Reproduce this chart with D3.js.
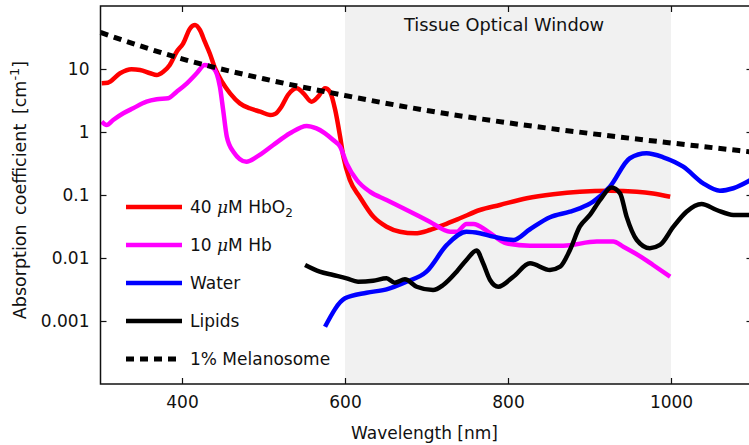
<!DOCTYPE html>
<html>
<head>
<meta charset="utf-8">
<script src="https://cdn.jsdelivr.net/npm/d3@7"></script>
<style>
  body { margin: 0; background: #fff; }
  svg { display: block; }
  text { font-family: "DejaVu Sans", sans-serif; fill: #111; }
</style>
</head>
<body>
<svg id="chart" width="749" height="445"></svg>
<script>
// wavelength [nm], absorption coefficient [cm^-1]
var hbo2 = [[301.5,5.93],[309,6.06],[324,8.55],[338,9.89],[348.5,9.64],[361,8.55],[369,8.03],[377,9.06],
  [385,11.6],[393.5,18.8],[401.5,25.6],[410,44.3],[416,49.9],[422,41.6],[428,27.1],[434,17.8],[440.5,10.3],
  [449,6.29],[459,4.11],[471,2.85],[483,2.38],[496,2.1],[508,1.86],[514,1.93],[522,2.52],[530,3.87],
  [541,4.94],[549,4.11],[559,3.03],[567,3.63],[575.5,4.94],[581.5,4.36],[588,2.23],[594,0.842],[598,0.406],
  [606,0.173],[618,0.094],[635,0.045],[651,0.0314],[667.5,0.0261],[686,0.0246],[704,0.0278],[720.5,0.0334],
  [741,0.0427],[765.5,0.0578],[790,0.0694],[823,0.0887],[855.5,0.103],[888,0.113],[925,0.117],[958,0.113],
  [978,0.106],[999,0.094]];

var hb = [[301.5,1.46],[307.5,1.29],[315.5,1.55],[328,1.98],[340,2.38],[356.5,3.03],[369,3.3],[383,3.43],
  [393.5,4.36],[406,5.93],[418,8.55],[428,11.6],[438.5,10.3],[446.5,5.24],[450.5,2.23],[455,0.842],
  [463,0.487],[479,0.338],[492,0.406],[512,0.622],[532.5,0.955],[553,1.25],[565,1.14],[585.5,0.746],
  [594,0.585],[602,0.318],[614.5,0.173],[630.5,0.113],[651,0.0833],[680,0.0543],[704,0.0377],[729,0.0261],
  [737,0.0261],[749,0.0347],[757.5,0.0347],[776,0.026],[798,0.0171],[827,0.0157],[868,0.0157],[909,0.0182],
  [929,0.0182],[941.5,0.0151],[966,0.00989],[978,0.00774],[999,0.00505]];

var water = [[575.5,0.000812],[600,0.00229],[626.5,0.00281],[651,0.00318],[675.5,0.00421],[700,0.00607],
  [725,0.0161],[749,0.0261],[765.5,0.0247],[782,0.0218],[806.5,0.0193],[827,0.0286],[851.5,0.0443],
  [876,0.0543],[888,0.0615],[904.5,0.0783],[925,0.135],[949.5,0.383],[970,0.459],[990.5,0.397],
  [1015,0.281],[1039.5,0.153],[1060,0.117],[1076.5,0.128],[1100,0.18]];

var lipids = [[551,0.00774],[569,0.00607],[585.5,0.00537],[602,0.00476],[616,0.00421],[634.5,0.00436],
  [651,0.00476],[661,0.00406],[673.5,0.00459],[688,0.0035],[708,0.0031],[720.5,0.00373],[737,0.00607],
  [749,0.0093],[761.5,0.0131],[769.5,0.00824],[778,0.00448],[788,0.0035],[806.5,0.00505],[827,0.00824],
  [851.5,0.00645],[864,0.00728],[876,0.0134],[888,0.0314],[900.5,0.0482],[913,0.0833],[927,0.132],
  [937.5,0.106],[945.5,0.0453],[958,0.0193],[974,0.0143],[986.5,0.0161],[1003,0.0314],[1019,0.0543],
  [1037.5,0.072],[1056,0.0578],[1076.5,0.0482],[1100,0.0482]];

var melanosome = [[300,38],[400,14.5],[500,7],[600,3.8],[700,2.2],[800,1.4],[900,0.95],[1000,0.67],[1100,0.48]];

var xTicks = [400, 600, 800, 1000];
var yTicks = [0.001, 0.01, 0.1, 1, 10];
var yTickLabels = ["0.001", "0.01", "0.1", "1", "10"];
var windowRange = [600, 1000];

var svg = d3.select("#chart");

var x = d3.scaleLinear().domain([300, 1100]).range([100.5, 752.5]);
var y = d3.scaleLog().domain([1e-4, 100]).range([384, 6]);

// optical window shading
svg.append("rect")
    .attr("x", x(windowRange[0]))
    .attr("y", y(100))
    .attr("width", x(windowRange[1]) - x(windowRange[0]))
    .attr("height", y(1e-4) - y(100))
    .style("fill", "#f1f1f1");

svg.append("text")
    .attr("x", (x(windowRange[0]) + x(windowRange[1])) / 2 - 4)
    .attr("y", 31)
    .attr("text-anchor", "middle")
    .style("font-size", "17.8px")
    .text("Tissue Optical Window");

var line = d3.line()
    .x(d => x(d[0]))
    .y(d => y(d[1]))
    .curve(d3.curveMonotoneX);

var series = [
  {data: hbo2, color: "#ff0000", dash: null},
  {data: hb, color: "#ff00ff", dash: null},
  {data: water, color: "#0000ff", dash: null},
  {data: lipids, color: "#000000", dash: null},
  {data: melanosome, color: "#000000", dash: "8,6"}
];

var plot = svg.append("g");
plot.selectAll(".curve")
    .data(series)
    .enter()
    .append("path")
    .attr("class", "curve")
    .attr("d", d => line(d.data))
    .style("fill", "none")
    .style("stroke", d => d.color)
    .style("stroke-width", d => d.dash ? 5 : 4.5)
    .style("stroke-dasharray", d => d.dash)
    .style("stroke-linejoin", "round");

// frame
svg.append("rect")
    .attr("x", x(300))
    .attr("y", y(100))
    .attr("width", x(1100) - x(300))
    .attr("height", y(1e-4) - y(100))
    .style("fill", "none")
    .style("stroke", "#111")
    .style("stroke-width", 1.5);

// axes, ticks pointing inward
svg.append("g")
    .attr("transform", "translate(0," + y(1e-4) + ")")
    .call(d3.axisBottom(x).tickValues(xTicks).tickSizeInner(-6).tickSizeOuter(0).tickPadding(12)
      .tickFormat(d3.format("d")))
    .call(g => g.select(".domain").remove());

svg.append("g")
    .attr("transform", "translate(0," + y(100) + ")")
    .call(d3.axisTop(x).tickValues(xTicks).tickSizeInner(-6).tickSizeOuter(0).tickFormat(""))
    .call(g => g.select(".domain").remove());

svg.append("g")
    .attr("transform", "translate(" + x(300) + ",0)")
    .call(d3.axisLeft(y).tickValues(yTicks).tickSizeInner(-6).tickSizeOuter(0).tickPadding(11)
      .tickFormat((d, i) => yTickLabels[i]))
    .call(g => g.select(".domain").remove());

svg.append("g")
    .attr("transform", "translate(" + x(1100) + ",0)")
    .call(d3.axisRight(y).tickValues(yTicks).tickSizeInner(-6).tickSizeOuter(0).tickFormat(""))
    .call(g => g.select(".domain").remove());

svg.selectAll(".tick line").style("stroke", "#111").style("stroke-width", 1.2);
svg.selectAll(".tick text").style("font-family", "'DejaVu Sans', sans-serif")
    .style("font-size", "17px").style("fill", "#111");

// axis titles
svg.append("text")
    .attr("x", (x(300) + x(1100)) / 2 - 2)
    .attr("y", 439)
    .attr("text-anchor", "middle")
    .style("font-size", "17px")
    .text("Wavelength [nm]");

var yt = svg.append("text")
    .attr("transform", "translate(26,190) rotate(-90)")
    .attr("text-anchor", "middle")
    .style("font-size", "17.5px")
    .style("word-spacing", "4px");
yt.append("tspan").text("Absorption coefficient [cm");
yt.append("tspan").attr("dy", -7).style("font-size", "13px").text("-1");
yt.append("tspan").attr("dy", 7).text("]");

// legend
var legendRows = [
  {color: "#ff0000", dash: null, parts: [["40 ", null], ["\u03bc", "italic"], ["M HbO", null], ["2", "sub"]]},
  {color: "#ff00ff", dash: null, parts: [["10 ", null], ["\u03bc", "italic"], ["M Hb", null]]},
  {color: "#0000ff", dash: null, parts: [["Water", null]]},
  {color: "#000000", dash: null, parts: [["Lipids", null]]},
  {color: "#000000", dash: "8,6", parts: [["1% Melanosome", null]]}
];

var legend = svg.append("g");
var rows = legend.selectAll(".row")
    .data(legendRows)
    .enter()
    .append("g")
    .attr("class", "row")
    .attr("transform", (d, i) => "translate(126," + (207 + i * 38) + ")");

rows.append("line")
    .attr("x1", 0).attr("x2", 56)
    .style("stroke", d => d.color)
    .style("stroke-width", d => d.dash ? 5 : 4.5)
    .style("stroke-dasharray", d => d.dash);

rows.append("text")
    .attr("x", 64)
    .attr("y", 6)
    .style("font-size", "17px")
    .each(function(d) {
      var t = d3.select(this);
      d.parts.forEach(function(p) {
        var s = t.append("tspan").text(p[0]);
        if (p[1] === "italic") s.style("font-style", "italic").style("font-family", "'DejaVu Serif', serif");
        if (p[1] === "sub") s.attr("dy", 4).style("font-size", "12px");
      });
    });
</script>
</body>
</html>
